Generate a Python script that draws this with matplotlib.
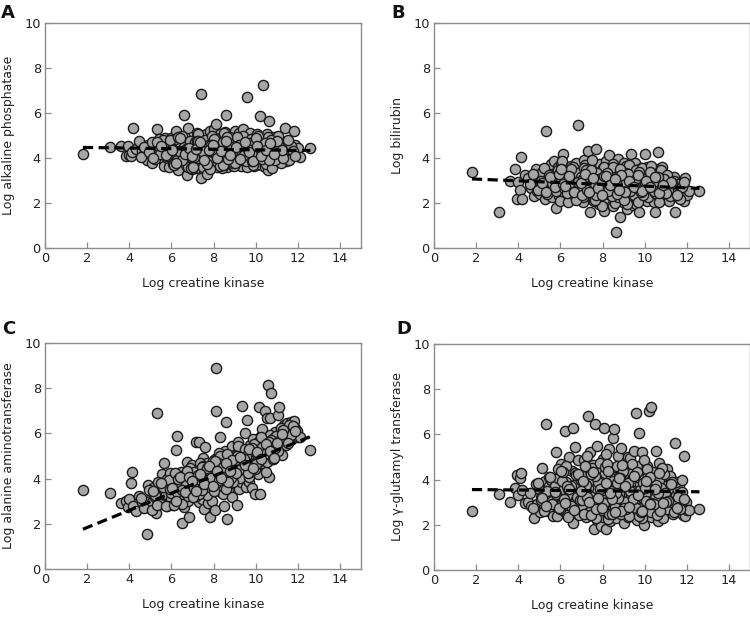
import matplotlib
matplotlib.use("Agg")
import matplotlib.pyplot as plt

# ---------------- data ----------------
ck = [
    1.8, 3.1, 3.6, 3.85, 3.95, 4.0, 4.1, 4.15, 4.2, 4.3, 4.45, 4.6,
    4.75, 4.85, 4.9, 5.0, 5.05, 5.1, 5.15, 5.2, 5.25, 5.3, 5.35, 5.4, 5.45, 5.5, 5.55, 5.6, 5.65, 5.7,
    5.75, 5.8, 5.85, 5.9, 5.95, 6.0, 6.05, 6.1, 6.15, 6.2, 6.25, 6.3, 6.35, 6.4, 6.45,
    6.5, 6.55, 6.6, 6.62, 6.65, 6.7, 6.75, 6.8, 6.85, 6.9,
    6.95, 7.0, 7.05, 7.1, 7.15, 7.2, 7.25, 7.3, 7.32, 7.35, 7.4, 7.42, 7.45, 7.5, 7.55,
    7.6, 7.62, 7.65, 7.7, 7.72, 7.75, 7.8, 7.82, 7.85, 7.9, 7.92, 7.95, 8.0, 8.02, 8.05,
    8.08, 8.1, 8.12, 8.15, 8.2,
    8.25, 8.3, 8.32, 8.35, 8.4, 8.45, 8.48, 8.5, 8.55, 8.6, 8.62, 8.65, 8.7, 8.72, 8.75,
    8.8, 8.85, 8.88, 8.9, 8.95, 9.0, 9.02, 9.05, 9.1, 9.12, 9.15, 9.2, 9.22, 9.25, 9.3,
    9.32, 9.35, 9.4, 9.42, 9.45,
    9.5, 9.52, 9.55, 9.6, 9.62, 9.65, 9.7, 9.72, 9.75, 9.8, 9.82, 9.85, 9.9, 9.92, 9.95,
    10.0, 10.02, 10.05, 10.1, 10.12, 10.15, 10.2, 10.22, 10.25, 10.3, 10.32, 10.35, 10.4, 10.42, 10.45,
    10.5, 10.52, 10.55, 10.6, 10.62,
    10.65, 10.7, 10.72, 10.75, 10.8, 10.85, 10.9, 10.95, 11.0, 11.05, 11.1, 11.15, 11.2, 11.25, 11.3,
    11.35, 11.4, 11.45, 11.5, 11.55, 11.6, 11.65, 11.7, 11.75, 11.8, 11.85, 11.9, 11.95, 12.0, 12.1,
    12.6,
    4.55, 4.7, 4.95, 5.08, 5.22, 5.38, 5.48, 5.62, 5.78, 5.88, 5.98, 6.08, 6.18, 6.28, 6.38, 6.48, 6.58, 6.68, 6.78, 6.88,
    6.98, 7.08, 7.18, 7.28, 7.38, 7.48, 7.58, 7.68, 7.78, 7.88, 7.98, 8.08, 8.18, 8.28, 8.38, 8.48, 8.58, 8.68, 8.78, 8.88,
    8.98, 9.08, 9.18, 9.28, 9.38, 9.48, 9.58, 9.68, 9.78, 9.88, 9.98, 10.08, 10.18, 10.28, 10.38, 10.48, 10.58, 10.68, 10.78, 10.88,
    10.98, 11.08, 11.18, 11.28, 11.38, 11.48, 11.58, 11.68, 11.78, 11.88, 5.12, 5.32, 5.52, 5.72, 5.92, 6.12, 6.32, 6.52, 6.72, 6.92,
    7.12, 7.32, 7.52, 7.72, 7.92, 8.12, 8.32, 8.52, 8.72, 8.92, 9.12, 9.32, 9.52, 9.72, 9.92, 10.12, 10.32, 10.52, 10.72, 10.92,
    11.12, 11.32, 11.52, 6.03, 6.23, 6.43, 6.63, 6.83, 7.03, 7.23, 7.43, 7.63, 7.83, 8.03, 8.23, 8.43, 8.63, 8.83, 9.03, 9.23,
    9.43, 9.63, 9.83, 10.03, 10.23, 10.43, 10.63, 10.83, 11.03, 11.23, 7.07, 7.27, 7.47, 7.67, 7.87, 8.07, 8.27, 8.47, 8.67, 8.87,
    9.07, 9.27, 9.47, 9.67, 9.87, 10.07, 10.27, 10.47, 10.67, 10.87, 6.97, 7.17, 7.37, 7.57, 7.77, 7.97, 8.17, 8.37, 8.57, 8.77,
]

alp = [
    4.2, 4.5, 4.55, 4.1, 4.55, 4.15, 4.1, 4.25, 5.35, 4.4, 4.75, 4.3,
    4.35, 3.9, 4.6, 4.2, 4.5, 3.8, 4.65, 4.45, 4.3, 5.3, 4.1, 4.85, 4.5, 4.0, 4.7, 4.4, 3.65, 4.9,
    4.45, 4.0, 4.75, 3.6, 4.3, 4.9, 4.15, 4.55, 3.95, 5.2, 4.4, 3.45, 4.7, 4.05, 4.6,
    4.25, 3.85, 5.9, 4.5, 4.95, 3.7, 3.25, 5.35, 4.15, 4.6,
    4.3, 3.9, 4.8, 4.45, 3.55, 5.1, 4.05, 4.6, 3.8, 4.25, 6.85, 3.1, 4.95, 4.4, 3.7,
    4.15, 5.05, 4.55, 3.95, 4.7, 3.45, 4.35, 5.2, 4.0, 4.85, 3.65, 4.5, 4.2, 5.3, 3.85,
    4.65, 4.1, 5.5, 3.6, 4.45,
    3.9, 4.6, 5.05, 4.25, 3.75, 4.8, 4.4, 4.0, 5.15, 5.9, 3.6, 4.55, 4.2, 4.9, 3.85,
    4.45, 5.0, 4.1, 3.7, 4.65, 4.3, 5.2, 3.95, 4.75, 4.15, 3.8, 4.55, 5.1, 4.0, 4.4,
    3.65, 4.85, 5.3, 4.2, 3.9,
    4.6, 4.05, 4.95, 6.7, 4.35, 3.75, 4.7, 4.2, 5.1, 3.9, 4.5, 4.85, 4.1, 3.65, 4.4,
    4.75, 5.0, 4.25, 3.8, 4.55, 4.9, 5.85, 4.15, 3.7, 4.45, 4.8, 7.25, 4.05, 3.6, 4.6,
    4.3, 5.05, 4.0, 3.45, 4.7,
    5.65, 4.35, 3.85, 4.6, 4.15, 4.95, 4.4, 4.75, 4.0, 4.55, 4.85, 4.25, 3.9, 4.6, 4.15,
    4.45, 5.35, 3.85, 4.3, 4.7, 4.0, 4.5, 4.2, 4.4, 5.2, 4.6, 4.35, 4.15, 4.45, 4.05,
    4.45,
    4.05, 4.5, 4.25, 4.7, 3.95, 4.55, 4.2, 4.8, 4.1, 4.6, 4.35, 3.75, 4.85, 3.9, 4.3, 5.0, 4.0, 4.4, 3.6, 4.75,
    3.5, 4.55, 3.8, 5.05, 4.2, 3.6, 4.8, 3.3, 4.6, 4.3, 3.75, 4.9, 4.0, 4.65, 3.55, 5.1, 4.3, 3.8, 4.95, 4.15,
    3.65, 4.8, 4.35, 3.9, 5.0, 4.2, 3.6, 4.55, 4.85, 3.7, 4.25, 5.05, 3.95, 4.6, 4.1, 3.75, 4.95, 4.3, 3.55, 4.7,
    4.2, 5.0, 3.8, 4.45, 4.0, 4.75, 3.9, 4.55, 4.3, 4.1, 4.0, 4.7, 4.55, 4.15, 4.8, 3.7, 4.95, 3.9, 4.4, 3.55,
    4.7, 4.0, 4.35, 3.85, 5.0, 4.55, 3.65, 4.25, 4.75, 3.8, 4.95, 4.35, 3.85, 4.65, 4.2, 5.0, 3.95, 4.45, 4.8, 3.9,
    4.55, 4.0, 4.8, 4.35, 3.8, 4.9, 4.2, 4.45, 3.6, 4.75, 4.1, 4.55, 3.5, 4.85, 4.3, 3.7, 4.95, 4.4, 3.8, 4.6,
    4.15, 4.4, 3.85, 4.9, 4.35, 4.65, 3.9, 4.25, 4.75, 4.35, 4.05, 4.75, 4.3, 3.75, 4.6, 4.25, 4.05, 4.7, 3.95, 4.5,
    4.5, 3.95, 4.7, 4.25, 3.85, 4.55, 4.1, 4.35, 4.65, 4.2, 4.1, 4.4, 4.7, 3.9, 4.35, 4.6, 4.0, 4.3, 4.75, 4.15,
]

bil = [
    3.4, 1.6, 3.0, 3.5, 2.2, 2.95, 2.6, 4.05, 2.2, 3.25, 3.1, 2.65,
    2.3, 3.5, 2.55, 3.1, 2.4, 2.75, 3.4, 2.95, 2.2, 5.2, 3.5, 2.6, 3.0, 2.45, 3.75, 2.25, 3.2, 3.85,
    3.3, 1.8, 2.6, 3.6, 2.3, 3.0, 3.75, 4.2, 2.5, 3.3, 2.8, 2.2, 3.55, 3.1, 2.45,
    3.65, 2.9, 2.35, 3.4, 3.0, 2.6, 3.8, 2.5, 5.45, 3.15,
    2.7, 3.35, 2.05, 3.9, 2.85, 3.25, 2.55, 4.3, 3.05, 2.3, 1.6, 3.6, 2.75, 3.45, 2.15,
    3.7, 2.45, 3.05, 4.4, 2.8, 3.5, 2.6, 3.25, 1.95, 3.75, 2.4, 3.1, 2.9, 3.55, 2.2,
    1.65, 3.4, 2.75, 3.85, 2.5,
    3.2, 2.6, 4.15, 2.95, 2.35, 3.5, 1.85, 2.75, 3.3, 2.25, 0.7, 3.6, 2.9, 3.95, 2.5,
    3.15, 1.4, 2.7, 3.45, 2.05, 3.8, 2.4, 3.0, 2.6, 3.65, 1.75, 2.85, 3.35, 2.2, 3.55,
    2.95, 4.2, 2.45, 3.1, 1.9,
    3.2, 2.5, 3.8, 1.95, 2.85, 3.45, 2.35, 3.1, 1.6, 2.7, 3.55, 2.2, 3.0, 2.55, 3.35,
    4.2, 2.4, 2.9, 3.6, 2.1, 3.25, 2.65, 3.15, 2.45, 3.0, 3.6, 2.3, 2.8, 3.4, 2.05,
    1.6, 3.05, 2.6, 3.5, 2.35,
    4.25, 2.85, 3.3, 2.5, 3.6, 2.2, 3.0, 2.7, 3.2, 2.4, 2.95, 2.1, 2.75, 3.1, 2.5,
    2.65, 3.15, 1.6, 2.3, 2.9, 2.55, 2.75, 2.4, 2.6, 2.85, 2.1, 3.1, 2.45, 2.35, 2.55,
    2.55,
    2.85, 3.3, 2.6, 3.0, 3.55, 2.4, 3.25, 2.9, 2.55, 3.45, 2.1, 3.85, 2.65, 3.2, 2.05, 2.95, 3.6, 2.3, 3.35, 2.75,
    3.15, 2.25, 3.7, 2.6, 2.95, 3.9, 2.1, 3.35, 2.7, 3.05, 1.85, 3.6, 2.45, 3.2, 2.85, 3.75, 2.0, 3.1, 2.55, 3.4,
    2.65, 3.25, 1.95, 3.7, 2.8, 2.35, 3.45, 2.05, 3.0, 3.55, 2.6, 3.2, 2.25, 3.65, 2.9, 2.45, 3.3, 2.05, 3.45, 2.6,
    2.8, 3.25, 2.3, 2.65, 3.0, 2.45, 2.85, 2.2, 2.7, 2.95, 2.9, 2.5, 3.15, 2.7, 3.3, 2.85, 2.45, 3.5, 2.15, 2.65,
    3.55, 2.5, 2.95, 3.35, 2.7, 3.15, 2.4, 3.6, 2.25, 2.95, 3.35, 2.55, 2.8, 3.4, 2.35, 2.9, 3.25, 2.75, 2.5, 3.05,
    2.6, 2.9, 2.35, 3.5, 2.75, 3.2, 2.5, 2.95, 2.35, 3.45, 2.8, 2.15, 3.05, 2.6, 3.35, 2.3, 2.95, 3.5, 2.15, 3.3,
    2.8, 3.1, 2.5, 2.95, 3.4, 2.55, 3.15, 2.7, 2.45, 2.95, 3.05, 2.6, 3.45, 2.35, 2.9, 3.2, 2.55, 3.0, 2.4, 3.25,
    2.5, 3.0, 2.7, 3.25, 2.55, 3.0, 2.7, 3.15, 2.45, 2.8, 2.9, 3.3, 2.5, 3.1, 2.65, 2.35, 3.2, 2.8, 3.05, 2.6,
]

alt = [
    3.5, 3.35, 2.9, 3.0, 2.75, 3.1, 3.8, 4.3, 2.8, 2.55, 3.25, 2.95,
    3.0, 1.55, 3.7, 2.7, 3.45, 2.95, 3.6, 3.2, 2.5, 6.9, 3.0, 3.35, 3.1, 3.8, 4.2, 3.3, 4.7, 3.5,
    3.3, 4.0, 3.6, 2.9, 4.25, 3.1, 3.75, 3.45, 2.9, 5.25, 5.9, 3.55, 4.05, 3.2, 4.3,
    2.05, 3.8, 3.5, 2.75, 4.15, 3.35, 4.75, 3.0, 2.3, 4.4,
    3.7, 4.6, 3.2, 4.0, 5.6, 3.45, 4.3, 2.95, 5.6, 3.85, 3.5, 4.45, 3.1, 4.9, 2.65,
    5.4, 4.15, 3.6, 4.7, 2.9, 4.0, 3.35, 4.5, 2.3, 3.8, 4.25, 3.0, 4.65, 3.55, 2.6,
    4.85, 7.0, 8.9, 3.7, 4.4,
    3.45, 5.85, 4.1, 3.7, 4.8, 3.3, 4.5, 2.8, 5.2, 6.5, 3.9, 2.2, 4.35, 5.0, 3.6,
    4.65, 3.95, 5.45, 3.2, 4.2, 4.9, 3.75, 5.1, 2.85, 4.4, 5.6, 4.05, 3.55, 4.75, 5.3,
    3.85, 7.2, 4.55, 5.05, 4.25,
    6.0, 3.65, 4.6, 6.6, 5.2, 4.15, 3.85, 5.5, 4.7, 4.3, 3.6, 5.05, 4.9, 4.45, 3.3,
    5.35, 4.75, 5.75, 4.2, 5.0, 7.15, 5.5, 3.3, 5.9, 4.85, 6.2, 5.25, 4.6, 5.6, 7.0,
    4.95, 5.35, 6.7, 8.15, 5.1,
    4.05, 6.7, 7.8, 5.7, 4.85, 5.4, 6.05, 5.1, 5.55, 6.8, 7.15, 5.8, 6.2, 5.05, 5.9,
    6.35, 6.1, 5.5, 6.45, 6.3, 5.95, 6.15, 6.5, 5.8, 6.55, 6.25, 6.0, 6.1, 5.85, 5.85,
    5.25,
    3.13, 2.69, 3.48, 2.63, 3.28, 3.84, 2.88, 3.64, 2.8, 3.93, 3.37, 2.81, 4.25, 3.39, 3.87, 2.86, 4.15, 3.74, 3.23, 4.46,
    3.45, 4.29, 3.23, 4.07, 4.7, 3.79, 4.43, 3.27, 4.36, 3.69, 4.78, 4.17, 3.66, 5.15, 4.08, 4.72, 3.56, 5.0, 4.54, 3.97,
    5.01, 4.2, 5.44, 4.03, 4.86, 5.3, 4.54, 4.08, 5.22, 5.75, 4.44, 5.18, 5.67, 4.71, 5.54, 4.28, 5.42, 5.91, 4.95, 5.78,
    5.87, 5.21, 6.25, 5.69, 6.12, 5.66, 6.35, 5.94, 6.33, 6.11, 3.45, 2.82, 3.8, 2.77, 3.55, 2.83, 4.0, 3.48, 4.35, 3.38,
    4.01, 3.33, 4.56, 3.93, 4.46, 3.79, 5.01, 4.09, 4.56, 3.84, 5.02, 4.49, 5.02, 4.29, 5.52, 4.75, 5.42, 4.75, 5.72, 5.35,
    5.68, 6.15, 5.58, 3.59, 3.02, 4.09, 3.42, 4.05, 3.17, 3.95, 4.52, 3.65, 4.33, 3.45, 4.68, 4.2, 5.08, 4.01, 4.83, 4.36,
    4.88, 4.26, 5.34, 4.66, 5.84, 5.11, 5.64, 4.87, 5.59, 5.97, 3.59, 4.16, 3.49, 4.46, 4.04, 4.77, 3.94, 4.52, 3.84, 4.82,
    4.25, 4.97, 4.6, 5.32, 4.45, 5.18, 4.85, 5.53, 5.2, 4.93, 3.9, 3.47, 4.2, 3.78, 4.55, 3.68, 4.35, 4.03, 4.71, 4.33,
]

ggt = [
    2.6, 3.35, 3.0, 3.65, 4.2, 3.3, 4.05, 4.3, 3.55, 2.95, 3.0, 2.85,
    2.3, 3.8, 2.9, 3.6, 2.55, 3.25, 4.5, 2.8, 3.95, 6.45, 3.0, 2.6, 3.7, 3.3, 4.0, 3.05, 2.4, 3.55,
    3.7, 5.2, 2.4, 4.05, 3.3, 2.85, 4.7, 3.55, 2.6, 6.15, 3.9, 2.45, 3.6, 5.0, 2.95,
    3.35, 4.4, 6.3, 2.1, 3.75, 5.45, 3.1, 2.7, 4.85, 2.55,
    3.3, 4.0, 2.6, 4.85, 3.55, 2.35, 4.45, 6.8, 3.05, 2.75, 3.85, 5.2, 2.45, 3.4, 4.65,
    1.8, 6.45, 2.9, 3.65, 5.5, 2.2, 3.15, 4.35, 2.6, 3.95, 1.95, 3.5, 4.9, 2.35, 3.2,
    6.3, 4.3, 2.85, 1.8, 3.6,
    2.4, 5.35, 3.7, 2.15, 4.25, 3.0, 5.85, 2.7, 6.25, 3.5, 4.55, 2.3, 3.25, 5.05, 2.55,
    4.1, 3.85, 5.4, 2.95, 3.6, 2.1, 4.4, 3.15, 4.8, 2.65, 3.45, 5.0, 2.35, 3.9, 4.95,
    2.6, 3.3, 4.3, 2.85, 3.75,
    5.25, 2.9, 3.95, 6.95, 2.2, 4.6, 3.4, 2.55, 6.05, 3.8, 2.75, 5.2, 3.2, 4.25, 2.0,
    3.55, 2.45, 4.05, 2.95, 4.6, 3.3, 7.05, 2.6, 3.75, 7.2, 2.35, 4.15, 3.1, 3.9, 2.7,
    3.45, 5.25, 2.85, 3.6, 4.05,
    2.15, 4.75, 2.5, 3.35, 4.0, 2.3, 3.7, 2.9, 3.1, 4.45, 2.75, 3.5, 4.1, 3.25, 3.85,
    2.5, 3.6, 5.6, 3.3, 2.85, 3.55, 3.75, 3.2, 3.45, 2.45, 5.05, 2.4, 3.0, 2.65, 2.65,
    2.7,
    3.4, 2.75, 3.85, 3.1, 2.6, 3.5, 4.1, 2.9, 3.35, 4.45, 2.7, 3.95, 3.15, 4.6, 2.35, 3.7, 2.9, 4.3, 3.25, 2.45,
    4.2, 2.85, 3.75, 5.05, 2.55, 4.5, 3.05, 2.3, 3.9, 4.75, 2.65, 3.45, 5.15, 2.25, 4.05, 3.6, 2.8, 4.6, 3.35, 2.5,
    4.4, 3.0, 3.85, 2.4, 4.7, 3.25, 2.75, 4.1, 3.55, 2.3, 4.85, 3.05, 3.7, 2.55, 4.35, 3.2, 2.45, 4.0, 3.65, 2.8,
    3.4, 2.7, 4.15, 3.0, 2.55, 3.9, 3.25, 2.7, 4.0, 3.15, 3.2, 2.85, 4.1, 3.45, 2.75, 4.35, 3.7, 2.85, 4.2, 3.1,
    2.5, 3.65, 4.35, 2.85, 3.3, 4.55, 2.5, 3.95, 3.2, 4.65, 2.7, 3.5, 4.2, 2.4, 3.85, 4.45, 2.95, 3.75, 2.6, 4.25,
    3.05, 3.9, 2.75, 4.4, 2.95, 3.6, 2.65, 4.25, 3.1, 3.75, 2.45, 4.15, 2.9, 3.55, 4.7, 2.5, 3.4, 4.05, 2.75, 3.85,
    3.15, 4.35, 2.55, 3.65, 4.1, 2.9, 3.4, 4.5, 3.0, 3.8, 3.95, 3.25, 4.25, 2.7, 3.6, 2.95, 4.4, 3.15, 3.85, 2.6,
    3.7, 2.8, 4.15, 3.3, 2.6, 3.95, 2.9, 3.6, 4.3, 2.95, 3.5, 4.6, 3.0, 4.35, 3.2, 2.75, 3.85, 3.4, 2.55, 4.05,
]

# regression lines (end points)
fit_x = [1.8, 12.6]
fit_alp = [4.47, 4.33]
fit_bil = [3.07, 2.65]
fit_alt = [1.76, 5.86]
fit_ggt = [3.56, 3.46]

panel_letters = ["A", "B", "C", "D"]
y_labels = ["Log alkaline phosphatase", "Log bilirubin",
            "Log alanine aminotransferase", "Log \u03b3-glutamyl transferase"]
x_label = "Log creatine kinase"
x_ticks = [0, 2, 4, 6, 8, 10, 12, 14]
y_ticks = [0, 2, 4, 6, 8, 10]

# ---------------- figure ----------------
plt.rcParams['font.family'] = ['DejaVu Sans']
W, H = 750, 619
fig = plt.figure(figsize=(W / 100, H / 100), dpi=100)

# axes boxes in pixels: left, top, right, bottom
boxes = [(45, 23, 361, 248), (434, 23, 750, 248),
         (45, 343, 361, 569), (434, 344, 750, 570)]
letter_pos = [(1, 18), (391, 18), (2, 334), (396, 334)]
series = [alp, bil, alt, ggt]
fits = [fit_alp, fit_bil, fit_alt, fit_ggt]

spine_col = "#8c8c8c"
txt_col = "#222222"
for i in range(4):
    l, t, r, b = boxes[i]
    ax = fig.add_axes([l / W, 1 - b / H, (r - l) / W, (b - t) / H])
    ax.scatter(ck, series[i], s=54, facecolor="#a6a6a6", edgecolor="#1a1a1a",
               linewidths=1.0, zorder=2, clip_on=False)
    ax.plot(fit_x, fits[i], color="black", lw=2.3, dashes=(3.2, 1.7),
            zorder=3, dash_capstyle="butt")
    ax.set_xlim(0, 15)
    ax.set_ylim(0, 10)
    ax.set_xticks(x_ticks)
    ax.set_yticks(y_ticks)
    for s in ax.spines.values():
        s.set_color(spine_col)
        s.set_linewidth(1.0)
    ax.tick_params(direction="in", length=4, width=0.9, color=spine_col,
                   labelsize=9.3, labelcolor=txt_col, pad=3)
    ax.set_xlabel(x_label, fontsize=9, color=txt_col)
    ax.set_ylabel(y_labels[i], fontsize=9, color=txt_col)
    ax.xaxis.set_label_coords(0.5, -0.13)
    ax.yaxis.set_label_coords(-0.095, 0.5)
    lx, ly = letter_pos[i]
    fig.text(lx / W, 1 - ly / H, panel_letters[i], fontsize=13,
             fontweight="bold", color="#111111", ha="left", va="baseline")

fig.savefig("out.png", dpi=100)
